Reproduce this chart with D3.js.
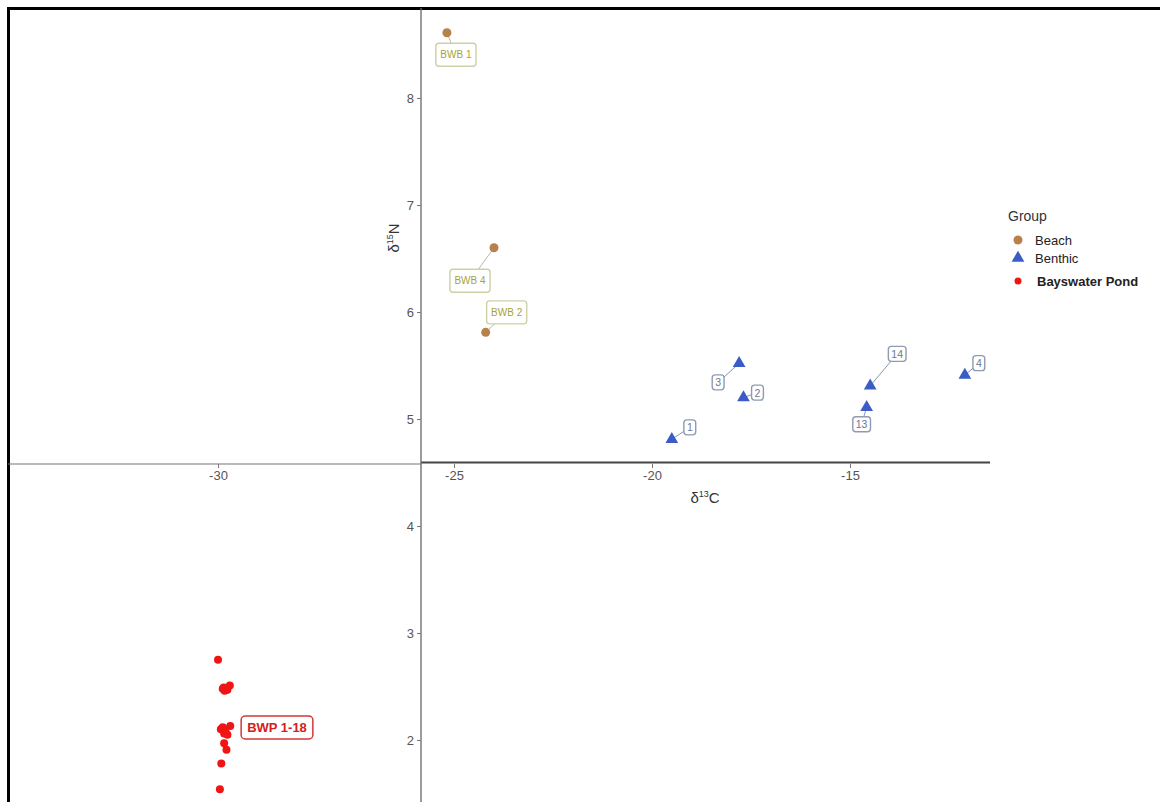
<!DOCTYPE html>
<html>
<head>
<meta charset="utf-8">
<script src="https://cdn.jsdelivr.net/npm/d3@7"></script>
<style>
  body { margin: 0; background: #fff; }
  text { font-family: Arial, "Liberation Sans", sans-serif; }
</style>
</head>
<body>
<svg id="chart" width="1160" height="802"></svg>
<script>
// data
var beachNames = ["BWB 1", "BWB 4", "BWB 2"];
var beachC = [-25.15, -23.99, -24.2];
var beachN = [8.61, 6.6, 5.81];

var benthicNames = ["1", "3", "2", "14", "13", "4"];
var benthicC = [-19.5, -17.8, -17.69, -14.49, -14.58, -12.1];
var benthicN = [4.81, 5.52, 5.2, 5.31, 5.11, 5.41];

var pondC = [-30.0, -29.9, -29.82, -29.75, -29.86, -29.88, -29.8, -29.94, -29.85, -29.74,
             -29.87, -29.9, -29.87, -29.82, -29.93, -29.96, -29.84, -29.8];
var pondN = [2.75, 2.48, 2.47, 2.51, 2.46, 2.49, 2.47, 2.1, 2.1, 2.13,
             2.06, 2.12, 1.97, 1.91, 1.78, 1.54, 2.08, 2.05];
var pondLabel = "BWP 1-18";

var xTicks = [-30, -25, -20, -15];
var yTicks = [2, 3, 4, 5, 6, 7, 8];

var groups = ["Beach", "Benthic", "Bayswater Pond"];
var groupColors = ["#b8804a", "#3b5cc4", "#f01414"];

// label nudges (pixels from the point), like ggrepel put them
var nudge = {
    "BWB 1": [9, 22], "BWB 4": [-24, 33], "BWB 2": [21, -20],
    "1": [18, -12], "3": [-21, 19], "2": [14, -5],
    "14": [27, -32], "13": [-5, 17], "4": [14, -12]
};

var svg = d3.select("#chart");

// the x axis is stretched left of -25 in the original, so two pieces
var x = d3.scaleLinear().domain([-30, -25, -15]).range([218, 454, 850]);
var y = d3.scaleLinear().domain([2, 8]).range([740, 98]);
var colour = d3.scaleOrdinal().domain(groups).range(groupColors);

var originX = 421;
var plainNum = function (d) { return String(d); };  // hyphen minus, no decimals

// outer frame
svg.append("path")
    .attr("d", "M8.5,802V8.5H1160")
    .attr("fill", "none")
    .attr("stroke", "#000")
    .attr("stroke-width", 3);

// axis lines
svg.append("line").attr("x1", 8).attr("x2", originX).attr("y1", 464).attr("y2", 464)
    .attr("stroke", "#777").attr("stroke-width", 1.2);
svg.append("line").attr("x1", originX).attr("x2", 990).attr("y1", 462.5).attr("y2", 462.5)
    .attr("stroke", "#444").attr("stroke-width", 2);
svg.append("line").attr("x1", originX).attr("x2", originX).attr("y1", 8).attr("y2", 802)
    .attr("stroke", "#666").attr("stroke-width", 1.3);

// x axis ticks
var xAxis = svg.append("g")
    .attr("transform", "translate(0,464)")
    .call(d3.axisBottom(x).tickValues(xTicks).tickFormat(plainNum).tickSize(4).tickPadding(3));
xAxis.select(".domain").remove();
xAxis.selectAll(".tick line").attr("stroke", "#777");
xAxis.selectAll(".tick text").attr("fill", "#555").style("font-size", "13px");

// y axis ticks
var yAxis = svg.append("g")
    .attr("transform", "translate(" + originX + ",0)")
    .call(d3.axisLeft(y).tickValues(yTicks).tickFormat(plainNum).tickSize(4).tickPadding(3));
yAxis.select(".domain").remove();
yAxis.selectAll(".tick line").attr("stroke", "#777");
yAxis.selectAll(".tick text").attr("fill", "#555").style("font-size", "13px");

// axis titles
var xt = svg.append("text").attr("x", 705).attr("y", 503).attr("text-anchor", "middle")
    .attr("fill", "#333").style("font-size", "15px");
xt.append("tspan").text("δ");
xt.append("tspan").text("13").attr("dy", -6).style("font-size", "9px");
xt.append("tspan").text("C").attr("dy", 6);

var yt = svg.append("text").attr("transform", "translate(399,238) rotate(-90)")
    .attr("text-anchor", "middle").attr("fill", "#333").style("font-size", "15px");
yt.append("tspan").text("δ");
yt.append("tspan").text("15").attr("dy", -6).style("font-size", "9px");
yt.append("tspan").text("N").attr("dy", 6);

// label helper: segment, box, text
function addLabel(px, py, name, opts) {
    var d = nudge[name];
    var cx = px + d[0], cy = py + d[1];
    var g = svg.append("g");
    g.append("line").attr("x1", px).attr("y1", py).attr("x2", cx).attr("y2", cy)
        .attr("stroke", opts.seg).attr("stroke-width", 1);
    var t = g.append("text").attr("x", cx).attr("y", cy).attr("text-anchor", "middle")
        .attr("dominant-baseline", "central").attr("fill", opts.text)
        .style("font-size", opts.size + "px").text(name);
    var w = t.node().getComputedTextLength();
    g.insert("rect", "text")
        .attr("x", cx - w / 2 - opts.padX).attr("y", cy - opts.h / 2)
        .attr("width", w + 2 * opts.padX).attr("height", opts.h)
        .attr("rx", 3).attr("fill", "#fff")
        .attr("stroke", opts.border).attr("stroke-width", 1.4);
}

var beachLab = { seg: "#b9b9b0", text: "#a8a236", border: "#cfcfa6", size: 10, padX: 4.5, h: 23 };
var benthicLab = { seg: "#8796b0", text: "#6b7894", border: "#8f9bb2", size: 10.5, padX: 3, h: 15 };

beachNames.forEach(function (n, i) {
    addLabel(x(beachC[i]), y(beachN[i]), n, beachLab);
});
benthicNames.forEach(function (n, i) {
    addLabel(x(benthicC[i]), y(benthicN[i]), n, benthicLab);
});

// points
svg.selectAll("circle.beach").data(d3.range(beachC.length)).enter().append("circle")
    .attr("class", "beach")
    .attr("cx", function (i) { return x(beachC[i]); })
    .attr("cy", function (i) { return y(beachN[i]); })
    .attr("r", 4.5)
    .attr("fill", colour("Beach"));

var tri = d3.symbol().type(d3.symbolTriangle).size(70);
svg.selectAll("path.benthic").data(d3.range(benthicC.length)).enter().append("path")
    .attr("class", "benthic")
    .attr("d", tri)
    .attr("transform", function (i) { return "translate(" + x(benthicC[i]) + "," + y(benthicN[i]) + ")"; })
    .attr("fill", colour("Benthic"));

svg.selectAll("circle.pond").data(d3.range(pondC.length)).enter().append("circle")
    .attr("class", "pond")
    .attr("cx", function (i) { return x(pondC[i]); })
    .attr("cy", function (i) { return y(pondN[i]); })
    .attr("r", 4)
    .attr("fill", colour("Bayswater Pond"));

// pond label
var pl = svg.append("g");
var plt = pl.append("text").attr("x", 277).attr("y", 727).attr("text-anchor", "middle")
    .attr("dominant-baseline", "central").attr("fill", "#d42020")
    .style("font-size", "13px").style("font-weight", "bold").text(pondLabel);
var plw = plt.node().getComputedTextLength();
pl.insert("rect", "text").attr("x", 277 - plw / 2 - 6).attr("y", 716)
    .attr("width", plw + 12).attr("height", 23).attr("rx", 4)
    .attr("fill", "#fff").attr("stroke", "#d43838").attr("stroke-width", 1.5);

// legend
var legend = svg.append("g").attr("transform", "translate(1008,0)");
legend.append("text").attr("x", 0).attr("y", 221).attr("fill", "#333")
    .style("font-size", "14px").text("Group");
var legY = [240, 258, 281];
groups.forEach(function (gname, i) {
    if (gname === "Benthic") {
        legend.append("path").attr("d", tri)
            .attr("transform", "translate(10," + legY[i] + ")")
            .attr("fill", colour(gname));
    } else {
        legend.append("circle").attr("cx", 10).attr("cy", legY[i])
            .attr("r", gname === "Beach" ? 4.5 : 3.5).attr("fill", colour(gname));
    }
    legend.append("text").attr("x", gname === "Bayswater Pond" ? 29 : 27).attr("y", legY[i])
        .attr("dominant-baseline", "central").attr("fill", "#222")
        .style("font-size", "13px")
        .style("font-weight", gname === "Bayswater Pond" ? "bold" : "normal")
        .text(gname);
});
</script>
</body>
</html>
